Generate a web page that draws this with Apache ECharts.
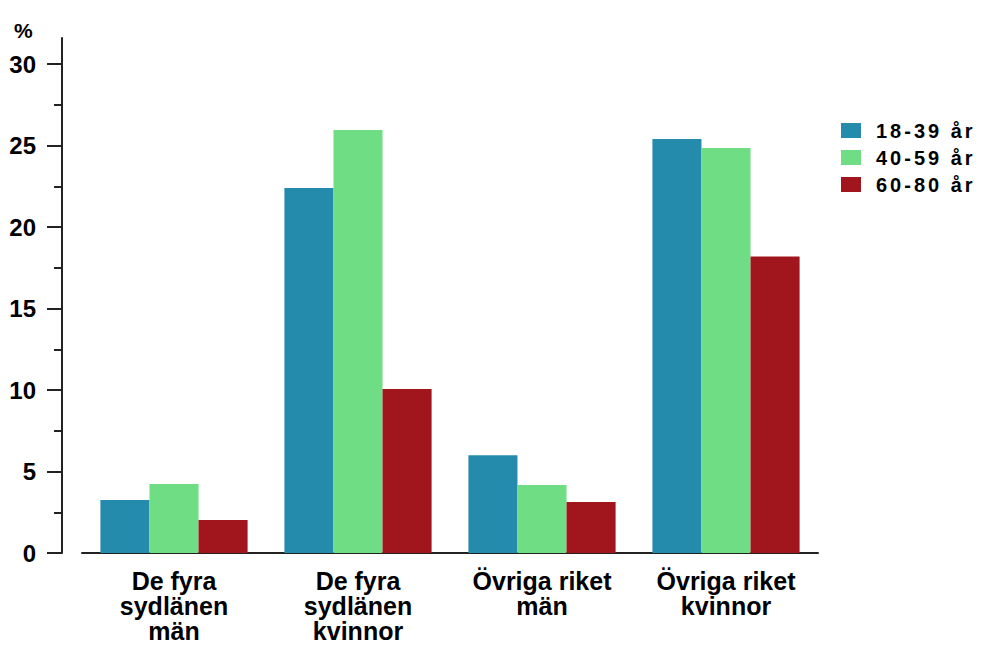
<!DOCTYPE html>
<html>
<head>
<meta charset="utf-8">
<script src="https://cdn.jsdelivr.net/npm/echarts@6/dist/echarts.min.js"></script>
<style>
html,body{margin:0;padding:0;background:#fff}
#c{width:981px;height:645px}
#c svg text[style*="LgndX"], #c svg text[font-family*="LgndX"]{letter-spacing:3px}
</style>
</head>
<body>
<div id="c"></div>
<script>
var categories = ['De fyra\nsydlänen\nmän', 'De fyra\nsydlänen\nkvinnor', 'Övriga riket\nmän', 'Övriga riket\nkvinnor'];
var seriesNames = ['18-39 år', '40-59 år', '60-80 år'];
var age18_39 = [3.25, 22.4, 6.0, 25.4];
var age40_59 = [4.23, 25.95, 4.17, 24.85];
var age60_80 = [2.02, 10.06, 3.13, 18.2];
var majorTicks = [0, 5, 10, 15, 20, 25, 30];
var minorTicks = [2.5, 7.5, 12.5, 17.5, 22.5, 27.5];
var colors = ['#248BAD', '#6FDD84', '#A1161C'];

var chart = echarts.init(document.getElementById('c'), null, {renderer: 'svg'});
var font = '"Liberation Sans", Arial, sans-serif';
var yMax = 31.6;
chart.setOption({
  animation: false,
  title: {text: '%', left: 14, top: 20, padding: 0, textStyle: {fontFamily: font, fontWeight: 'bold', fontSize: 21, color: '#000'}},
  legend: {
    orient: 'vertical', left: 841, top: 120, padding: 0, icon: 'rect',
    itemWidth: 20, itemHeight: 15, itemGap: 6,
    textStyle: {fontFamily: '"Liberation Sans", LgndX', fontWeight: 'bold', fontSize: 20, color: '#000', lineHeight: 21, padding: [0, 0, 0, 10]},
    data: seriesNames
  },
  grid: {left: 82, right: 163, top: 38, bottom: 92, containLabel: false},
  xAxis: {
    type: 'category', data: categories,
    axisLine: {lineStyle: {color: '#222', width: 2}},
    axisTick: {alignWithLabel: true, length: 7, lineStyle: {color: '#222', width: 2}},
    axisLabel: {fontFamily: font, fontWeight: 'bold', fontSize: 25, lineHeight: 25, color: '#000', margin: 15, interval: 0}
  },
  yAxis: [{
    type: 'value', min: 0, max: yMax, offset: 20,
    axisLine: {show: true, lineStyle: {color: '#222', width: 2}},
    axisTick: {show: true, length: 15, customValues: majorTicks, lineStyle: {color: '#222', width: 2}},
    axisLabel: {customValues: majorTicks, fontFamily: font, fontWeight: 'bold', fontSize: 24, color: '#000', margin: 26},
    splitLine: {show: false}
  }, {
    type: 'value', min: 0, max: yMax, offset: 20, position: 'left',
    axisLine: {show: false},
    axisTick: {show: true, length: 8, customValues: minorTicks, lineStyle: {color: '#222', width: 2}},
    axisLabel: {show: false},
    splitLine: {show: false}
  }],
  series: [
    {name: seriesNames[0], type: 'bar', data: age18_39, barGap: '0%', barCategoryGap: '20%', itemStyle: {color: colors[0]}},
    {name: seriesNames[1], type: 'bar', data: age40_59, barGap: '0%', barCategoryGap: '20%', itemStyle: {color: colors[1]}},
    {name: seriesNames[2], type: 'bar', data: age60_80, barGap: '0%', barCategoryGap: '20%', itemStyle: {color: colors[2]}}
  ]
});
</script>
</body>
</html>
